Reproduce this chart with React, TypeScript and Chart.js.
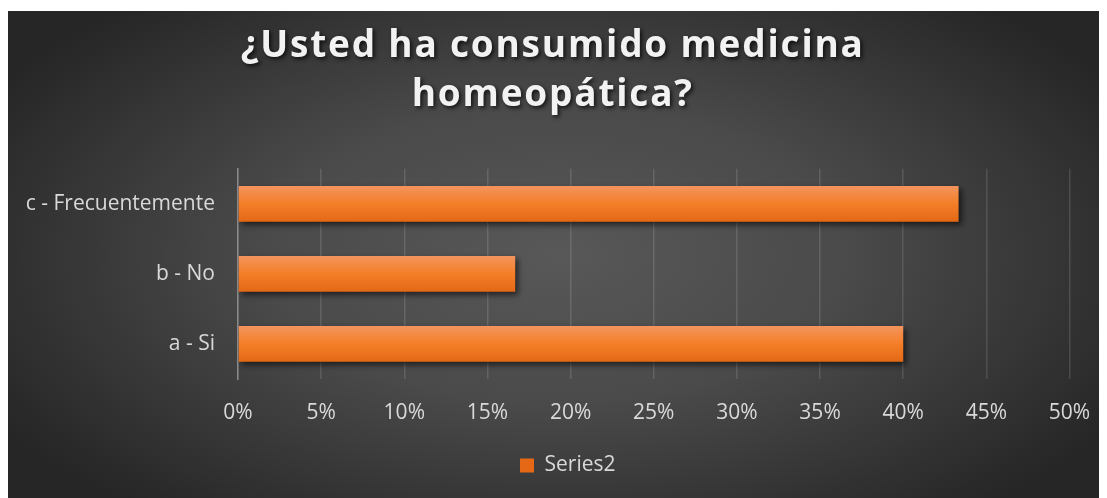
import React, { useEffect, useRef } from "react";
import { Chart, registerables } from "chart.js";

Chart.register(...registerables);

const categories: string[] = ["a - Si", "b - No", "c - Frecuentemente"];
const seriesName = "Series2";
const seriesValues: number[] = [40, 16.67, 43.33];
const titleLines: string[] = ["¿Usted ha consumido medicina", "homeopática?"];
const xMin = 0;
const xMax = 50;
const xStep = 5;

const W = 1099;
const H = 487;

export default function App() {
  const ref = useRef<HTMLCanvasElement | null>(null);

  useEffect(() => {
    document.documentElement.style.overflow = "hidden";
    document.body.style.overflow = "hidden";
    const canvas = ref.current;
    if (!canvas) return;

    const bgPlugin = {
      id: "bg",
      beforeDraw(chart: any) {
        const c = chart.ctx as CanvasRenderingContext2D;
        c.save();
        c.fillStyle = "#262626";
        c.fillRect(0, 0, chart.width, chart.height);
        const cx = chart.width / 2;
        const cy = chart.height * 0.5;
        c.translate(cx, cy);
        c.scale(1, 330 / 650);
        const g = c.createRadialGradient(0, 0, 0, 0, 0, 650);
        g.addColorStop(0, "#585858");
        g.addColorStop(0.45, "#4a4a4a");
        g.addColorStop(1, "#262626");
        c.fillStyle = g;
        c.fillRect(-cx, -650, chart.width, 1300);
        c.restore();
      },
    };

    const shadowPlugin = {
      id: "barShadow",
      afterInit(chart: any) {
        const tb = chart.titleBlock;
        if (tb) {
          const orig = tb.draw.bind(tb);
          tb.draw = (...args: any[]) => {
            const c = chart.ctx as CanvasRenderingContext2D;
            c.save();
            c.translate(14, 0);
            (c as any).letterSpacing = "1.8px";
            c.shadowColor = "rgba(0,0,0,0.75)";
            c.shadowBlur = 4;
            c.shadowOffsetX = 2;
            c.shadowOffsetY = 2;
            orig(...args);
            c.restore();
          };
        }
        const lg = chart.legend;
        if (lg) {
          const origL = lg.draw.bind(lg);
          lg.draw = (...args: any[]) => {
            const c = chart.ctx as CanvasRenderingContext2D;
            c.save();
            c.translate(29, 0);
            origL(...args);
            c.restore();
          };
        }
      },
      beforeDatasetsDraw(chart: any) {
        const c = chart.ctx as CanvasRenderingContext2D;
        c.save();
        c.shadowColor = "rgba(0,0,0,0.6)";
        c.shadowBlur = 6;
        c.shadowOffsetX = 3;
        c.shadowOffsetY = 3;
      },
      afterDatasetsDraw(chart: any) {
        chart.ctx.restore();
      },
    };

    const barFill = (ctx: any) => {
      const chart = ctx.chart;
      const y = chart.scales && chart.scales.y;
      if (ctx.dataIndex === undefined || !y) return "#F27F2C";
      const yc = y.getPixelForValue(ctx.dataIndex);
      if (!Number.isFinite(yc)) return "#F27F2C";
      const half = 18;
      const g = chart.ctx.createLinearGradient(0, yc - half, 0, yc + half);
      g.addColorStop(0, "#F3955E");
      g.addColorStop(0.5, "#F47E28");
      g.addColorStop(1, "#E46816");
      return g;
    };

    const chart = new Chart(canvas, {
      type: "bar",
      data: {
        labels: categories,
        datasets: [
          {
            label: seriesName,
            data: seriesValues,
            backgroundColor: barFill,
            borderWidth: 0,
            barPercentage: 0.51,
            categoryPercentage: 1,
          },
        ],
      },
      options: {
        indexAxis: "y",
        animation: false,
        responsive: false,
        layout: { padding: { left: 0, right: 37.5, top: 0, bottom: 12 } },
        scales: {
          x: {
            min: xMin,
            max: xMax,
            ticks: {
              stepSize: xStep,
              color: "#d9d9d9",
              padding: 21,
              font: { family: "'Open Sans'", size: 21 },
              callback: (v: any) => `${v}%`,
              maxRotation: 0,
            },
            grid: {
              display: true,
              color: "rgba(255,255,255,0.13)",
              lineWidth: 1.5,
              drawTicks: false,
            },
            border: { display: false },
            afterFit: (s: any) => {
              s.height = 66;
              s.paddingLeft = 0;
              s.paddingRight = 0;
            },
          },
          y: {
            reverse: true,
            ticks: {
              color: "#d9d9d9",
              padding: 23,
              font: { family: "'Open Sans'", size: 21 },
            },
            grid: { display: false, drawTicks: false },
            border: { display: true, color: "#8a8a8a", width: 1.5 },
            afterFit: (s: any) => {
              s.width = 230;
            },
          },
        },
        plugins: {
          title: {
            display: true,
            text: titleLines,
            color: "#f2f2f2",
            font: { family: "'Open Sans'", size: 37, weight: "bold", lineHeight: 49 / 37 },
            padding: { top: 11.4, bottom: 48.35 },
          },
          legend: {
            display: true,
            position: "bottom",
            labels: {
              color: "#d9d9d9",
              font: { family: "'Open Sans'", size: 21 },
              boxWidth: 14,
              boxHeight: 14,
              padding: 10,
            },
          },
          tooltip: { enabled: false },
        },
      },
      plugins: [bgPlugin, shadowPlugin],
    } as any);

    return () => chart.destroy();
  }, []);

  return (
    <div style={{ width: W, height: H, marginTop: 3 }}>
      <canvas ref={ref} width={W} height={H} style={{ display: "block" }} />
    </div>
  );
}
